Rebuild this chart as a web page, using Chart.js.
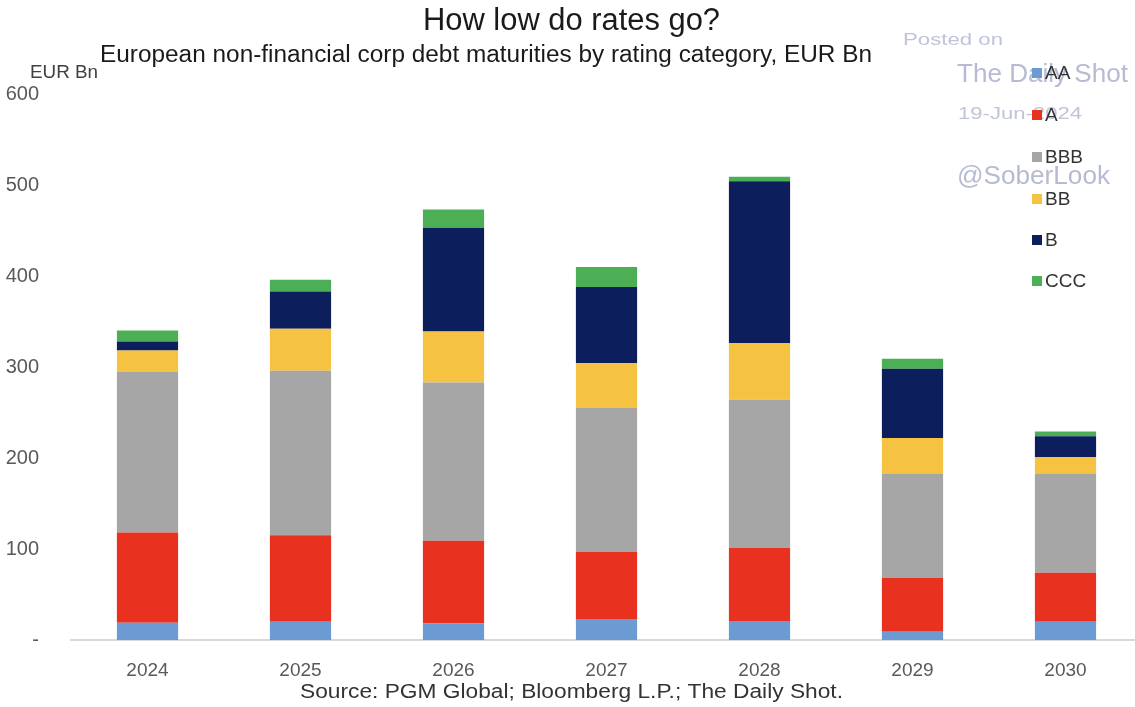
<!DOCTYPE html>
<html>
<head>
<meta charset="utf-8">
<script src="https://cdn.jsdelivr.net/npm/chart.js@4.4.1/dist/chart.umd.min.js"></script>
<style>
  html, body { margin: 0; padding: 0; background: #fff; overflow: hidden; }
  #wrap { position: relative; width: 1142px; height: 707px; }
</style>
</head>
<body>
<div id="wrap"><canvas id="chart"></canvas></div>
<script>
const years = ["2024", "2025", "2026", "2027", "2028", "2029", "2030"];
const aa  = [19, 20, 18, 23, 21, 9, 20];
const a   = [99, 95, 91, 74, 80, 59, 54];
const bbb = [177, 181, 174, 158, 163, 115, 109];
const bb  = [23, 46, 56, 49, 62, 39, 18];
const b   = [10, 41, 114, 84, 178, 76, 23];
const ccc = [12, 13, 20, 22, 5, 11, 5];
const yTicks = [0, 100, 200, 300, 400, 500, 600];

const ARIAL = '"Liberation Sans", Arial, sans-serif';

// draw text squeezed/stretched to a given width
function fitText(ctx, text, x, y, width, font, color) {
  ctx.save();
  ctx.font = font;
  ctx.fillStyle = color;
  ctx.textAlign = "left";
  ctx.textBaseline = "middle";
  const w = ctx.measureText(text).width;
  ctx.translate(x, y);
  ctx.scale(width / w, 1);
  ctx.fillText(text, 0, 0);
  ctx.restore();
}

const decorations = {
  id: "decorations",
  afterDraw(chart) {
    const ctx = chart.ctx;
    fitText(ctx, "How low do rates go?", 423, 21, 297, "31px " + ARIAL, "#1a1a1a");
    fitText(ctx, "European non-financial corp debt maturities by rating category, EUR Bn", 100, 56, 772, "23px " + ARIAL, "#1a1a1a");
    fitText(ctx, "EUR Bn", 30, 73, 68, "19px " + ARIAL, "#404040");
    fitText(ctx, "Source: PGM Global; Bloomberg L.P.; The Daily Shot.", 300, 692, 543, "20px " + ARIAL, "#333333");

    // watermark
    const wm = "#b6bbd3";
    fitText(ctx, "Posted on", 903, 40, 100, "17px " + ARIAL, "#c0c4d8");
    fitText(ctx, "The Daily Shot", 957, 75, 171, "25px " + ARIAL, wm);
    fitText(ctx, "19-Jun-2024", 958, 115, 124, "16px " + ARIAL, "#c0c4d8");
    fitText(ctx, "@SoberLook", 957, 177, 153, "25px " + ARIAL, wm);

    // legend
    const rows = [73, 115, 157, 199, 240, 281];
    chart.data.datasets.forEach((ds, i) => {
      const y = rows[i];
      ctx.fillStyle = ds.backgroundColor;
      ctx.fillRect(1032, y - 5, 10, 10);
      ctx.font = "19px " + ARIAL;
      ctx.fillStyle = "#333333";
      ctx.textAlign = "left";
      ctx.textBaseline = "middle";
      ctx.fillText(ds.label, 1045, y + 1);
    });
  }
};

new Chart(document.getElementById("chart"), {
  type: "bar",
  data: {
    labels: years,
    datasets: [
      { label: "AA",  data: aa,  backgroundColor: "#6b9bd2" },
      { label: "A",   data: a,   backgroundColor: "#e8321f" },
      { label: "BBB", data: bbb, backgroundColor: "#a6a6a6" },
      { label: "BB",  data: bb,  backgroundColor: "#f5c242" },
      { label: "B",   data: b,   backgroundColor: "#0c1e5b" },
      { label: "CCC", data: ccc, backgroundColor: "#4caf55" }
    ]
  },
  options: {
    responsive: true,
    maintainAspectRatio: false,
    animation: false,
    layout: { padding: { top: 94, left: 0, right: 0, bottom: 0 } },
    datasets: { bar: { barPercentage: 0.4, categoryPercentage: 1, borderWidth: 0 } },
    plugins: {
      legend: { display: false },
      tooltip: { enabled: false }
    },
    scales: {
      x: {
        stacked: true,
        grid: { display: false },
        border: { color: "#d9d9d9", width: 2 },
        ticks: { color: "#595959", font: { family: ARIAL, size: 19 }, padding: 11 },
        afterFit: (s) => { s.height = 67; }
      },
      y: {
        stacked: true,
        min: 0,
        max: 600,
        grid: { display: false },
        border: { display: false },
        afterBuildTicks: (s) => { s.ticks = yTicks.map(v => ({ value: v })); },
        ticks: {
          color: "#595959",
          font: { family: ARIAL, size: 20 },
          padding: 24,
          callback: (v) => v === 0 ? "-" : v
        },
        afterFit: (s) => { s.width = 71; }
      }
    }
  },
  plugins: [decorations]
});
</script>
</body>
</html>
